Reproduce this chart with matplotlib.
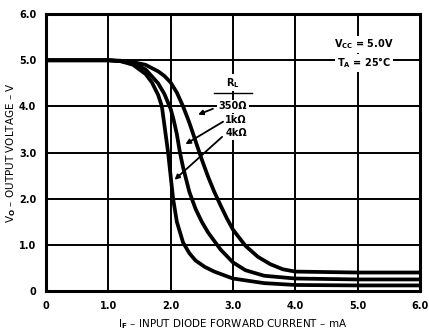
import matplotlib
matplotlib.use("Agg")
import matplotlib.pyplot as plt

plt.rcParams['font.family'] = ['DejaVu Sans']
plt.rcParams['font.weight'] = 'bold'

# input diode forward current (mA) and output voltage (V) per load
i_350 = [0, 0.5, 1.0, 1.2, 1.4, 1.6, 1.8, 1.9, 2.0, 2.1, 2.2, 2.3, 2.4, 2.5, 2.6, 2.7, 2.8, 2.9, 3.0, 3.2, 3.4, 3.6, 3.8, 4.0, 5.0, 6.0]
v_350 = [5.0, 5.0, 5.0, 4.99, 4.96, 4.9, 4.76, 4.66, 4.52, 4.3, 4.0, 3.65, 3.25, 2.85, 2.48, 2.15, 1.86, 1.58, 1.33, 0.98, 0.74, 0.58, 0.47, 0.42, 0.4, 0.4]

i_1k = [0, 0.5, 1.0, 1.2, 1.4, 1.6, 1.8, 1.9, 2.0, 2.05, 2.1, 2.15, 2.2, 2.3, 2.4, 2.5, 2.6, 2.8, 3.0, 3.2, 3.5, 4.0, 5.0, 6.0]
v_1k = [5.0, 5.0, 5.0, 4.98, 4.93, 4.8, 4.5, 4.27, 3.95, 3.7, 3.4, 3.0, 2.68, 2.15, 1.78, 1.5, 1.27, 0.9, 0.62, 0.45, 0.33, 0.27, 0.25, 0.25]

i_4k = [0, 0.5, 1.0, 1.2, 1.4, 1.6, 1.7, 1.8, 1.86, 1.91, 1.96, 2.0, 2.04, 2.1, 2.2, 2.3, 2.4, 2.55, 2.7, 3.0, 3.5, 4.0, 5.0, 6.0]
v_4k = [5.0, 5.0, 5.0, 4.98, 4.9, 4.7, 4.52, 4.25, 4.0, 3.5, 3.0, 2.5, 2.0, 1.5, 1.05, 0.82, 0.66, 0.52, 0.42, 0.27, 0.17, 0.13, 0.12, 0.12]

x_ticks = [0, 1, 2, 3, 4, 5, 6]
x_labels = ['0', '1.0', '2.0', '3.0', '4.0', '5.0', '6.0']
y_ticks = [0, 1, 2, 3, 4, 5, 6]
y_labels = ['0', '1.0', '2.0', '3.0', '4.0', '5.0', '6.0']

fig = plt.figure(figsize=(4.29, 3.36), dpi=100)
ax = fig.add_axes([0.107, 0.134, 0.872, 0.824])

for t in x_ticks[1:-1]:
    ax.axvline(t, color='black', lw=1.4, zorder=1)
for t in y_ticks[1:-1]:
    ax.axhline(t, color='black', lw=1.4, zorder=1)

for i, v in [(i_350, v_350), (i_1k, v_1k), (i_4k, v_4k)]:
    ax.plot(i, v, color='black', lw=2.7, solid_joinstyle='round', zorder=3)

ax.set_xlim(0, 6)
ax.set_ylim(0, 6)
ax.set_xticks(x_ticks)
ax.set_xticklabels(x_labels)
ax.set_yticks(y_ticks)
ax.set_yticklabels(y_labels)
ax.tick_params(length=0, labelsize=7, pad=7)
for s in ax.spines.values():
    s.set_linewidth(2.2)

ax.set_xlabel(r'I$_\mathbf{F}$ – INPUT DIODE FORWARD CURRENT – mA', fontsize=7.5)
ax.set_ylabel(r'V$_\mathbf{O}$ – OUTPUT VOLTAGE – V', fontsize=7.5)
ax.xaxis.set_label_coords(0.5, -0.095)
ax.yaxis.set_label_coords(-0.075, 0.5)

box = dict(facecolor='white', edgecolor='none', pad=1.2)
ax.text(3.0, 4.36, r'R$_\mathbf{L}$', fontsize=7, ha='center', va='bottom', bbox=box, zorder=5)
ax.plot([2.7, 3.3], [4.3, 4.3], color='black', lw=1.0, zorder=6)
ax.text(3.0, 4.0, '350Ω', fontsize=7, ha='center', va='center', bbox=box, zorder=5)
ax.text(3.05, 3.7, '1kΩ', fontsize=7, ha='center', va='center', bbox=box, zorder=5)
ax.text(3.05, 3.42, '4kΩ', fontsize=7, ha='center', va='center', bbox=box, zorder=5)

arrow = dict(arrowstyle='-|>', color='black', lw=1.3, mutation_scale=7)
ax.annotate('', xy=(2.4, 3.8), xytext=(2.72, 3.97), arrowprops=arrow, zorder=4)
ax.annotate('', xy=(2.2, 3.15), xytext=(2.88, 3.7), arrowprops=arrow, zorder=4)
ax.annotate('', xy=(2.03, 2.37), xytext=(2.86, 3.38), arrowprops=arrow, zorder=4)

ax.text(5.1, 5.35, r'V$_\mathbf{CC}$ = 5.0V', fontsize=7, ha='center', va='center', bbox=box, zorder=5)
ax.text(5.1, 4.95, r'T$_\mathbf{A}$ = 25°C', fontsize=7, ha='center', va='center', bbox=box, zorder=5)

fig.savefig('out.png', dpi=100)
